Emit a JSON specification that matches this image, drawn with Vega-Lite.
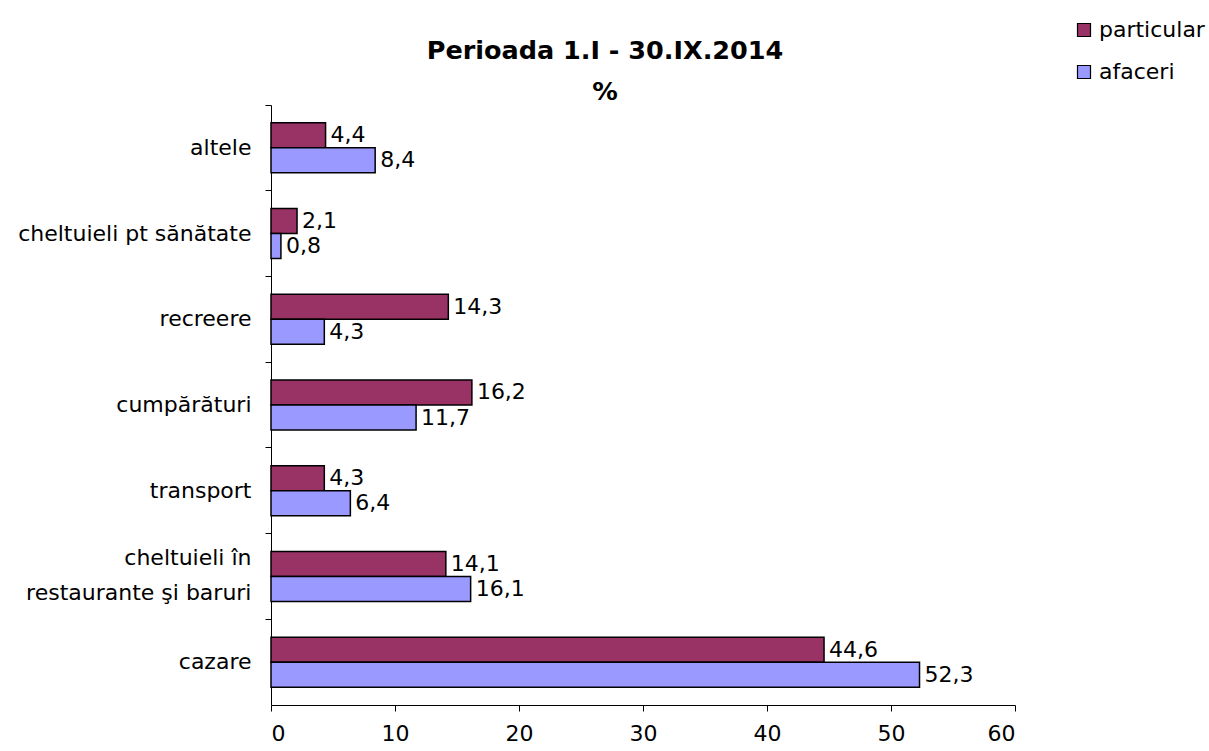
{
  "$schema": "https://vega.github.io/schema/vega-lite/v6.json",
  "autosize": "none",
  "padding": {"left": 271, "top": 105, "right": 194, "bottom": 46},
  "width": 744,
  "height": 600,
  "background": "white",
  "config": {
    "view": {"stroke": null},
    "font": "DejaVu Sans",
    "locale": {"number": {"decimal": ",", "thousands": ".", "grouping": [3], "currency": ["", " €"]}}
  },
  "title": {
    "text": ["Perioada 1.I - 30.IX.2014", "%"],
    "fontSize": 25.5,
    "fontWeight": "bold",
    "font": "DejaVu Sans",
    "color": "black",
    "lineHeight": 41,
    "anchor": "middle",
    "dx": -38,
    "offset": -86
  },
  "data": {
    "values": [
      {"cat": "altele", "series": "particular", "value": 4.4},
      {"cat": "altele", "series": "afaceri", "value": 8.4},
      {"cat": "cheltuieli pt sănătate", "series": "particular", "value": 2.1},
      {"cat": "cheltuieli pt sănătate", "series": "afaceri", "value": 0.8},
      {"cat": "recreere", "series": "particular", "value": 14.3},
      {"cat": "recreere", "series": "afaceri", "value": 4.3},
      {"cat": "cumpărături", "series": "particular", "value": 16.2},
      {"cat": "cumpărături", "series": "afaceri", "value": 11.7},
      {"cat": "transport", "series": "particular", "value": 4.3},
      {"cat": "transport", "series": "afaceri", "value": 6.4},
      {"cat": "cheltuieli în restaurante şi baruri", "series": "particular", "value": 14.1},
      {"cat": "cheltuieli în restaurante şi baruri", "series": "afaceri", "value": 16.1},
      {"cat": "cazare", "series": "particular", "value": 44.6},
      {"cat": "cazare", "series": "afaceri", "value": 52.3}
    ]
  },
  "encoding": {
    "y": {
      "field": "cat",
      "type": "nominal",
      "sort": null,
      "scale": {"paddingInner": 0, "paddingOuter": 0},
      "axis": {
        "title": null,
        "bandPosition": 0,
        "labelFontSize": 22,
        "labelColor": "black",
        "labelPadding": 14,
        "labelLimit": 400,
        "labelLineHeight": 35,
        "labelOffset": {"condition": {"test": "datum.value == 'cheltuieli în restaurante şi baruri'", "value": -18}, "value": 0},
        "tickColor": "black",
        "tickSize": 6,
        "domainColor": "black",
        "labelExpr": "datum.label == 'cheltuieli în restaurante şi baruri' ? ['cheltuieli în', 'restaurante şi baruri'] : datum.label"
      }
    },
    "yOffset": {
      "field": "series",
      "type": "nominal",
      "sort": ["particular", "afaceri"],
      "scale": {"paddingInner": 0, "paddingOuter": 0.714}
    },
    "x": {
      "field": "value",
      "type": "quantitative",
      "scale": {"domain": [0, 60], "nice": false},
      "axis": {
        "title": null,
        "values": [0, 10, 20, 30, 40, 50, 60],
        "format": "d",
        "grid": false,
        "labelFontSize": 22,
        "labelColor": "black",
        "labelPadding": 12,
        "tickColor": "black",
        "tickSize": 6,
        "domainColor": "black"
      }
    }
  },
  "layer": [
    {
      "mark": {"type": "bar", "stroke": "black", "strokeWidth": 1.5},
      "encoding": {
        "color": {
          "field": "series",
          "type": "nominal",
          "scale": {"domain": ["particular", "afaceri"], "range": ["#993366", "#9999FF"]},
          "legend": {
            "title": null,
            "orient": "none",
            "legendX": 802,
            "legendY": -86,
            "symbolType": "square",
            "symbolSize": 169,
            "symbolStrokeColor": "black",
            "symbolStrokeWidth": 1.2,
            "labelFontSize": 22,
            "labelColor": "black",
            "labelOffset": 4,
            "rowPadding": 20
          }
        }
      }
    },
    {
      "mark": {"type": "text", "align": "left", "baseline": "middle", "dx": 5, "fontSize": 22, "color": "black"},
      "encoding": {
        "text": {"field": "value", "type": "quantitative", "format": ".1f"}
      }
    }
  ]
}
